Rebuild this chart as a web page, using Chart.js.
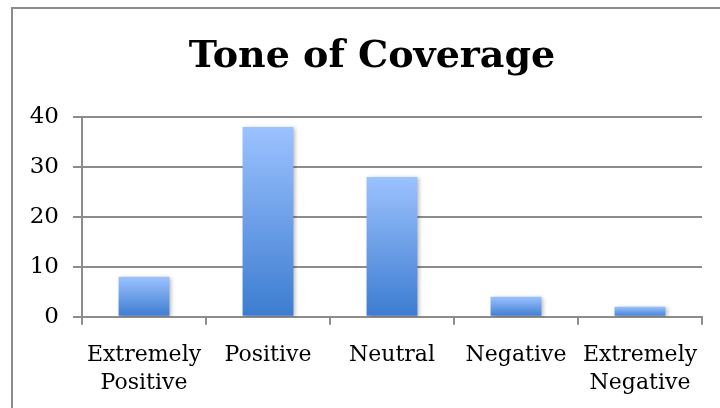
<!DOCTYPE html>
<html>
<head>
<meta charset="utf-8">
<script src="https://cdn.jsdelivr.net/npm/chart.js@4/dist/chart.umd.min.js"></script>
<style>
  html, body { margin: 0; padding: 0; background: #fff; overflow: hidden; }
  #frame {
    position: absolute; left: 11px; top: 7px;
    width: 720px; height: 410px;
    border-left: 2px solid #8c8c8c; border-top: 2px solid #8c8c8c;
  }
  #frame canvas { display: block; }
</style>
</head>
<body>
<div id="frame"><canvas id="c" width="720" height="410"></canvas></div>
<script>
// chart data
const chartTitle = 'Tone of Coverage';
const categories = [['Extremely', 'Positive'], 'Positive', 'Neutral', 'Negative', ['Extremely', 'Negative']];
const counts = [8, 38, 28, 4, 2];
const yTicks = [0, 10, 20, 30, 40];

const FONT = '"DejaVu Serif", serif';

// vertical gradient per bar, light at top, darker at the base
function barFill(ctx) {
  const chart = ctx.chart;
  if (!chart.chartArea || ctx.parsed == null) return '#6a9be6';
  const y = chart.scales.y;
  const top = y.getPixelForValue(ctx.parsed.y);
  const base = y.getPixelForValue(0);
  const g = chart.ctx.createLinearGradient(0, top, 0, base);
  g.addColorStop(0, '#9cc2ff');
  g.addColorStop(1, '#3c7cd0');
  return g;
}

const shadow = {
  id: 'barShadow',
  beforeDatasetsDraw(chart) {
    const c = chart.ctx;
    c.save();
    c.shadowColor = 'rgba(0,0,0,0.28)';
    c.shadowBlur = 4;
    c.shadowOffsetX = 2;
    c.shadowOffsetY = 1;
  },
  afterDatasetsDraw(chart) { chart.ctx.restore(); }
};

// title sits a bit right of the plot centre, like the original
const titleText = {
  id: 'titleText',
  afterDraw(chart) {
    const c = chart.ctx;
    c.save();
    c.font = 'bold 38px ' + FONT;
    c.fillStyle = '#000';
    c.textAlign = 'center';
    c.textBaseline = 'middle';
    c.fillText(chartTitle, 359, 48);
    c.restore();
  }
};

new Chart(document.getElementById('c'), {
  type: 'bar',
  data: {
    labels: categories,
    datasets: [{
      data: counts,
      backgroundColor: barFill,
      borderWidth: 0,
      categoryPercentage: 1,
      barPercentage: 0.41
    }]
  },
  plugins: [shadow, titleText],
  options: {
    responsive: false,
    animation: false,
    layout: { padding: { left: 0, right: 31, top: 108, bottom: 5 } },
    plugins: {
      legend: { display: false },
      tooltip: { enabled: false }
    },
    scales: {
      x: {
        offset: true,
        grid: {
          offset: true,
          drawOnChartArea: false,
          drawTicks: true,
          tickLength: 8,
          color: '#8c8c8c',
          lineWidth: 2
        },
        border: { display: true, color: '#8c8c8c', width: 2 },
        ticks: {
          color: '#000',
          font: { family: FONT, size: 22, lineHeight: 1.3 },
          padding: 16,
          maxRotation: 0,
          autoSkip: false
        }
      },
      y: {
        min: 0,
        max: 40,
        afterBuildTicks(scale) { scale.ticks = yTicks.map(v => ({ value: v })); },
        afterFit(scale) { scale.width = 69; },
        grid: {
          color: '#8c8c8c',
          lineWidth: 2,
          tickLength: 9
        },
        border: { display: true, color: '#8c8c8c', width: 2 },
        ticks: {
          color: '#000',
          font: { family: FONT, size: 23 },
          padding: 14
        }
      }
    }
  }
});
</script>
</body>
</html>
